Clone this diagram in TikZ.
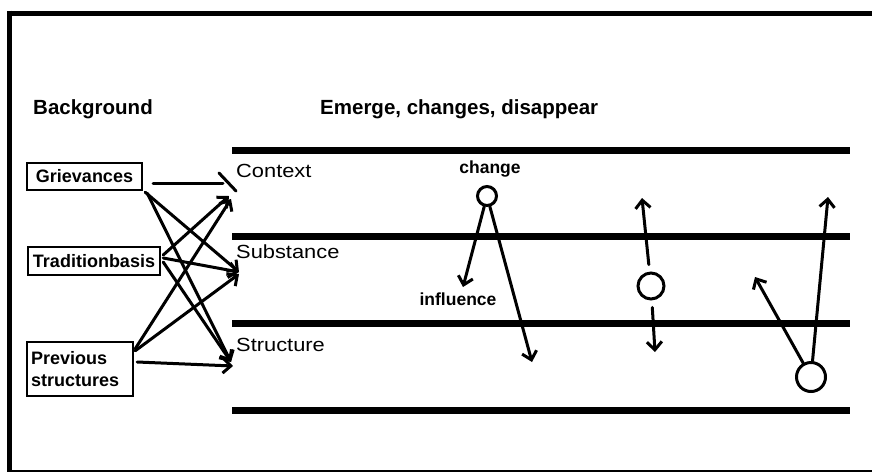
\documentclass[tikz,border=0pt]{standalone}
\usepackage{fontspec}
\setmainfont{Liberation Sans}
\newfontfamily\labfont[FakeStretch=1.15]{Liberation Sans}
\usetikzlibrary{arrows.meta}
\tikzset{
  frameline/.style={line width=5pt},
  band/.style={line width=7pt},
  boxnode/.style={draw, line width=2.4pt, inner sep=2pt, font=\fontsize{18}{21}\selectfont\bfseries},
  titletext/.style={anchor=base west, inner sep=0pt, font=\fontsize{20.5}{24}\selectfont\bfseries},
  layertext/.style={anchor=base west, inner sep=0pt, font=\labfont\fontsize{19}{22}\selectfont},
  smalltext/.style={anchor=base, inner sep=0pt, font=\fontsize{17.5}{20}\selectfont\bfseries},
  conn/.style={line width=3pt, line cap=round, -{Straight Barb[length=8pt,width=15pt]}},
  plainconn/.style={line width=3pt, line cap=round},
  ring/.style={circle, draw, line width=3pt, inner sep=0pt},
}
\begin{document}
\begin{tikzpicture}[x=1pt,y=-1pt]
\useasboundingbox (0,0) rectangle (872,472);
% frame
\draw[frameline] (7,13) -- (872,13);
\draw[frameline] (9.5,10.5) -- (9.5,471);
\draw[line width=2pt] (7,471) -- (872,471);
% titles
\node[titletext] (bg) at (33,114) {Background};
\node[titletext] (em) at (320,114) {Emerge, changes, disappear};
% bands
\draw[band] (232,150) -- (850,150);
\draw[band] (232,236) -- (850,236);
\draw[band] (232,323) -- (850,323);
\draw[band] (232,410) -- (850,410);
% layer labels
\node[layertext] (lc) at (236,177) {Context};
\node[layertext] (ls) at (236,258) {Substance};
\node[layertext] (lt) at (236,351) {Structure};
% boxes
\node[boxnode, minimum width=115pt, minimum height=27pt] (gr) at (84.5,176.5) {Grievances};
\node[boxnode, minimum width=132pt, minimum height=28pt] (tr) at (94,261) {Traditionbasis};
\node[boxnode, minimum width=106pt, minimum height=54pt, align=left, text width=98pt, font=\fontsize{18}{22}\selectfont\bfseries] (pr) at (80,369) {Previous\\structures};
% targets
\coordinate (ctxh) at (223,183);
\coordinate (ctxa) at (219,173);
\coordinate (ctx) at (236,191);
\coordinate (ctx2) at (229,196);
\coordinate (ctx3) at (231,199);
\coordinate (sub) at (239,272);
\coordinate (sub2) at (239,274);
\coordinate (str) at (231,362);
\coordinate (str2) at (233,366);
% left connectors
\draw[plainconn] ([xshift=10pt,yshift=-6.5pt]gr.east) -- (ctxh);
\draw[plainconn] (ctxa) -- (ctx);
\draw[conn] ([xshift=2pt,yshift=-1pt]gr.south east) -- (sub);
\draw[conn] ([xshift=4pt,yshift=-2pt]gr.south east) -- (str);
\draw[conn] ([xshift=2pt,yshift=6pt]tr.east) -- (ctx2);
\draw[conn] ([xshift=2pt,yshift=3pt]tr.east) -- (sub);
\draw[conn] ([xshift=2pt,yshift=-1pt]tr.east) -- (str);
\draw[conn] ([xshift=1pt,yshift=-8pt]pr.north east) -- (ctx3);
\draw[conn] ([xshift=1pt,yshift=-10pt]pr.north east) -- (sub2);
\draw[conn] ([xshift=3pt,yshift=7pt]pr.east) -- (str2);
% right side
\node[smalltext] (chg) at (490,173) {change};
\node[smalltext] (inf) at (458,305) {influence};
\node[ring, minimum size=19pt] (c1) at (487,196) {};
\node[ring, minimum size=26pt] (c2) at (651,286) {};
\node[ring, minimum size=29pt] (c3) at (811,377) {};
\coordinate (a1) at (463,287);
\coordinate (a2) at (532,362);
\coordinate (a3) at (642,198);
\coordinate (a4) at (655,352);
\coordinate (a5) at (755,277);
\coordinate (a6) at (828,197);
\draw[conn] (c1) -- (a1);
\draw[conn] (c1) -- (a2);
\draw[conn, shorten <=7pt] (c2) -- (a3);
\draw[conn, shorten <=7pt] (c2) -- (a4);
\draw[conn] (c3) -- (a5);
\draw[conn] (c3) -- (a6);
\end{tikzpicture}
\end{document}
